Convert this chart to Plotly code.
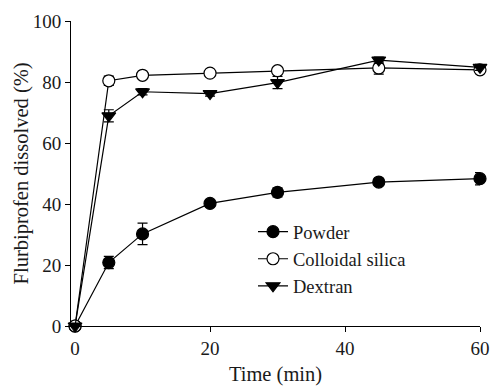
import plotly.graph_objects as go

time = [0, 5, 10, 20, 30, 45, 60]
powder = [0, 20.8, 30.2, 40.2, 43.8, 47.2, 48.3]
powder_err = [0, 2.0, 3.5, 1.0, 1.5, 1.0, 2.0]
silica = [0, 80.4, 82.2, 82.9, 83.7, 84.6, 84.0]
silica_err = [0, 1.5, 0.8, 0.8, 1.0, 2.0, 1.2]
dextran = [0, 68.9, 76.8, 76.2, 79.8, 87.2, 84.8]
dextran_err = [0, 2.0, 1.0, 0.8, 2.0, 1.0, 1.0]

font = "Liberation Serif"

fig = go.Figure()

def add(name, y, err, symbol, fill):
    fig.add_trace(go.Scatter(
        x=time, y=y, name=name, mode="lines+markers",
        line=dict(color="black", width=1.2),
        marker=dict(symbol=symbol, size=12, color=fill,
                    line=dict(color="black", width=1.2)),
        error_y=dict(type="data", array=err, color="black", thickness=1.2, width=5),
        cliponaxis=False,
    ))

add("Powder", powder, powder_err, "circle", "black")
add("Colloidal silica", silica, silica_err, "circle", "white")
add("Dextran", dextran, dextran_err, "triangle-down", "black")

fig.update_layout(
    width=490, height=386,
    margin=dict(l=71, r=10, t=21, b=60),
    paper_bgcolor="white", plot_bgcolor="white",
    font=dict(family=font, size=19, color="#1a1a1a"),
    showlegend=True,
    legend=dict(x=0.445, y=0.37, xanchor="left", yanchor="top",
                bgcolor="rgba(0,0,0,0)", font=dict(size=18.5, family=font),
                tracegroupgap=0, itemwidth=30),
    xaxis=dict(range=[-0.6, 60], tickvals=[0, 20, 40, 60], showline=True,
               linecolor="black", linewidth=1, ticks="outside", ticklen=5,
               tickcolor="black", showgrid=False, zeroline=False, automargin=False,
               title=dict(text="Time (min)", font=dict(size=20.5, family=font)),
               tickfont=dict(size=19, family=font)),
    yaxis=dict(range=[0, 100], tickvals=[0, 20, 40, 60, 80, 100], showline=True,
               linecolor="black", linewidth=1, ticks="outside", ticklen=5,
               tickcolor="black", showgrid=False, zeroline=False, automargin=False,
               tickfont=dict(size=19, family=font)),
    annotations=[dict(text="Flurbiprofen dissolved (%)", textangle=-90,
                      xref="paper", yref="paper", x=-0.12, y=0.5,
                      xanchor="center", yanchor="middle", showarrow=False,
                      font=dict(size=20.5, family=font, color="#1a1a1a"))],
)

fig.write_html("out.html")
